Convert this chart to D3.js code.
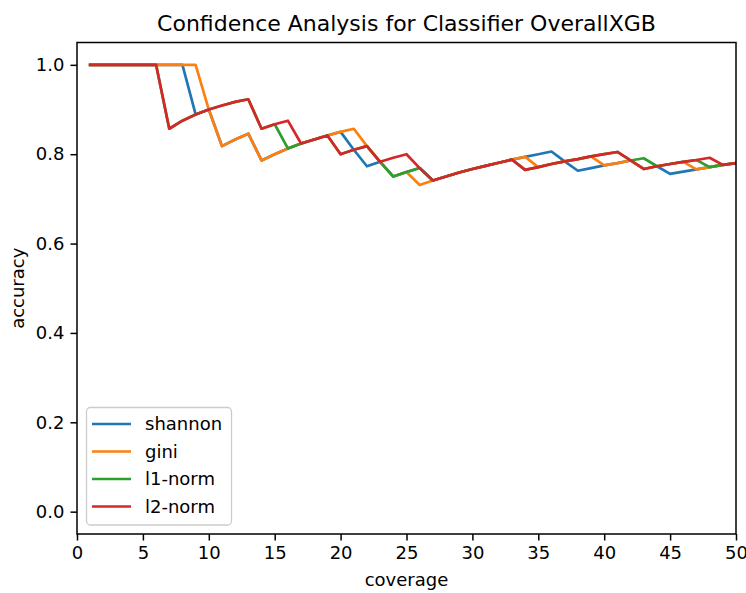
<!DOCTYPE html>
<html>
<head>
<meta charset="utf-8">
<script src="https://cdn.jsdelivr.net/npm/d3@7"></script>
<style>
  html, body { margin: 0; padding: 0; background: #ffffff; }
  svg { display: block; font-family: "DejaVu Sans", sans-serif; }
</style>
</head>
<body>
<svg id="chart" width="746" height="593"></svg>
<script>
// Coverage levels (number of most-confident samples kept)
const coverage = [1,2,3,4,5,6,7,8,9,10,11,12,13,14,15,16,17,18,19,20,
  21,22,23,24,25,26,27,28,29,30,31,32,33,34,35,36,37,38,39,40,
  41,42,43,44,45,46,47,48,49,50];

// Accuracy at each coverage level, one array per confidence measure
const shannon = [1,1,1,1,1,1,1,1,0.889,0.9,
  0.818,0.833,0.846,0.786,0.8,0.813,0.824,0.833,0.842,0.85,
  0.81,0.773,0.783,0.75,0.76,0.769,0.741,0.75,0.759,0.767,
  0.774,0.781,0.788,0.794,0.8,0.806,0.784,0.763,0.769,0.775,
  0.78,0.786,0.767,0.773,0.756,0.761,0.766,0.771,0.776,0.78];

const gini = [1,1,1,1,1,1,1,1,1,0.9,
  0.818,0.833,0.846,0.786,0.8,0.813,0.824,0.833,0.842,0.85,
  0.857,0.818,0.783,0.75,0.76,0.731,0.741,0.75,0.759,0.767,
  0.774,0.781,0.788,0.794,0.771,0.778,0.784,0.789,0.795,0.775,
  0.78,0.786,0.767,0.773,0.778,0.783,0.766,0.771,0.776,0.78];

const l1norm = [1,1,1,1,1,1,0.857,0.875,0.889,0.9,
  0.909,0.917,0.923,0.857,0.867,0.813,0.824,0.833,0.842,0.8,
  0.81,0.818,0.783,0.75,0.76,0.769,0.741,0.75,0.759,0.767,
  0.774,0.781,0.788,0.765,0.771,0.778,0.784,0.789,0.795,0.8,
  0.805,0.786,0.791,0.773,0.778,0.783,0.787,0.771,0.776,0.78];

const l2norm = [1,1,1,1,1,1,0.857,0.875,0.889,0.9,
  0.909,0.917,0.923,0.857,0.867,0.875,0.824,0.833,0.842,0.8,
  0.81,0.818,0.783,0.792,0.8,0.769,0.741,0.75,0.759,0.767,
  0.774,0.781,0.788,0.765,0.771,0.778,0.784,0.789,0.795,0.8,
  0.805,0.786,0.767,0.773,0.778,0.783,0.787,0.792,0.776,0.78];

const seriesNames = ["shannon", "gini", "l1-norm", "l2-norm"];
const seriesValues = [shannon, gini, l1norm, l2norm];
const seriesColors = ["#1f77b4", "#ff7f0e", "#2ca02c", "#d62728"];

const xTicks = [0, 5, 10, 15, 20, 25, 30, 35, 40, 45, 50];
const yTicks = [0.0, 0.2, 0.4, 0.6, 0.8, 1.0];

const titleText = "Confidence Analysis for Classifier OverallXGB";
const xLabel = "coverage";
const yLabel = "accuracy";

// Plot frame
const plot = { left: 77, right: 736, top: 42.5, bottom: 534 };
const svg = d3.select("#chart");

const x = d3.scaleLinear().domain([0, 50]).range([plot.left, plot.right]);
const y = d3.scaleLinear().domain([-0.05, 1.05]).range([plot.bottom, plot.top]);

const fontSize = 18;
const tickLen = 6.5;
const tickPad = 6;

// Clip region for the data lines
svg.append("defs").append("clipPath").attr("id", "plot-clip")
  .append("rect")
  .attr("x", plot.left).attr("y", plot.top)
  .attr("width", plot.right - plot.left).attr("height", plot.bottom - plot.top);

// X axis
const xAxis = svg.append("g")
  .attr("transform", `translate(0,${plot.bottom})`)
  .call(d3.axisBottom(x).tickValues(xTicks).tickFormat(d3.format("d"))
    .tickSize(tickLen).tickPadding(tickPad));
xAxis.select(".domain").remove();
xAxis.selectAll("line").attr("stroke", "#000").attr("stroke-width", 1.5);
xAxis.selectAll("text").attr("font-size", fontSize).attr("fill", "#000")
  .attr("font-family", "DejaVu Sans");

// Y axis
const yAxis = svg.append("g")
  .attr("transform", `translate(${plot.left},0)`)
  .call(d3.axisLeft(y).tickValues(yTicks).tickFormat(d3.format(".1f"))
    .tickSize(tickLen).tickPadding(tickPad));
yAxis.select(".domain").remove();
yAxis.selectAll("line").attr("stroke", "#000").attr("stroke-width", 1.5);
yAxis.selectAll("text").attr("font-size", fontSize).attr("fill", "#000")
  .attr("font-family", "DejaVu Sans");

// Data lines
const line = d3.line()
  .x((d, i) => x(coverage[i]))
  .y(d => y(d));

const linesG = svg.append("g").attr("clip-path", "url(#plot-clip)");
seriesValues.forEach((vals, k) => {
  linesG.append("path")
    .datum(vals)
    .attr("d", line)
    .attr("fill", "none")
    .attr("stroke", seriesColors[k])
    .attr("stroke-width", 2.7)
    .attr("stroke-linejoin", "round")
    .attr("stroke-linecap", "square");
});

// Axes box (spines)
svg.append("rect")
  .attr("x", plot.left).attr("y", plot.top)
  .attr("width", plot.right - plot.left).attr("height", plot.bottom - plot.top)
  .attr("fill", "none").attr("stroke", "#000").attr("stroke-width", 1.5);

// Title
svg.append("text")
  .attr("x", (plot.left + plot.right) / 2)
  .attr("y", 31)
  .attr("text-anchor", "middle")
  .attr("font-size", 22)
  .attr("fill", "#000")
  .text(titleText);

// Axis labels
svg.append("text")
  .attr("x", (plot.left + plot.right) / 2)
  .attr("y", 586)
  .attr("text-anchor", "middle")
  .attr("font-size", fontSize)
  .attr("fill", "#000")
  .text(xLabel);

svg.append("text")
  .attr("transform", `translate(24,${(plot.top + plot.bottom) / 2}) rotate(-90)`)
  .attr("text-anchor", "middle")
  .attr("font-size", fontSize)
  .attr("fill", "#000")
  .text(yLabel);

// Legend
const legend = svg.append("g");
const lg = { x: 86.5, y: 407.5, w: 145, h: 117.5, rowStart: 424, rowStep: 27.5 };
legend.append("rect")
  .attr("x", lg.x).attr("y", lg.y).attr("width", lg.w).attr("height", lg.h)
  .attr("rx", 4).attr("ry", 4)
  .attr("fill", "#ffffff").attr("fill-opacity", 0.8)
  .attr("stroke", "#cccccc").attr("stroke-width", 1.3);

seriesNames.forEach((name, k) => {
  const cy = lg.rowStart + k * lg.rowStep;
  legend.append("line")
    .attr("x1", 92).attr("x2", 131)
    .attr("y1", cy).attr("y2", cy)
    .attr("stroke", seriesColors[k]).attr("stroke-width", 2.7);
  legend.append("text")
    .attr("x", 145).attr("y", cy)
    .attr("dy", "0.35em")
    .attr("font-size", fontSize)
    .attr("fill", "#000")
    .text(name);
});
</script>
</body>
</html>
